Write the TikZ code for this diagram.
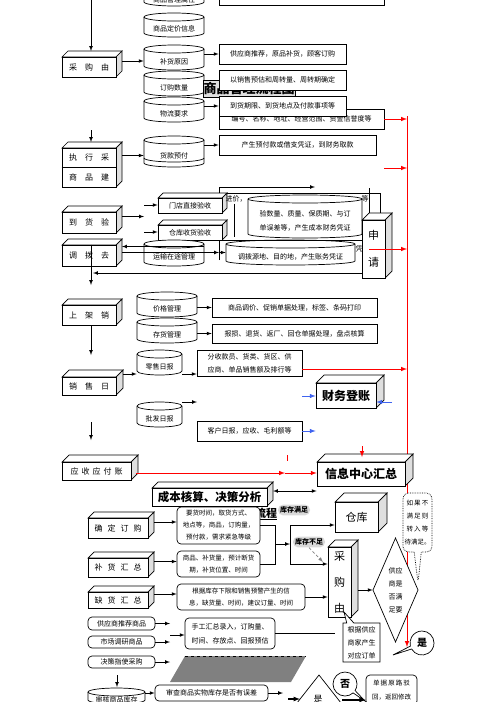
\documentclass[tikz,border=0pt]{standalone}
\usepackage{fontspec}
\setmainfont{Noto Sans CJK SC}
\usetikzlibrary{shapes.callouts}

\definecolor{arrowblue}{RGB}{64,100,240}

% raised box: name, x1, y1, x2, y2, depth, style, text
\newcommand{\solidbox}[8]{%
  \filldraw[fill=white] (#2,#3) -- (#2+#6,#3-#6) -- (#4+#6,#3-#6) -- (#4,#3) -- cycle;
  \filldraw[fill=gray!25] (#4,#3) -- (#4+#6,#3-#6) -- (#4+#6,#5-#6) -- (#4,#5) -- cycle;
  \node[face,#7,minimum width=#4pt-#2pt,minimum height=#5pt-#3pt] (#1) at ({(#2+#4)/2},{(#3+#5)/2}) {#8};
  \coordinate (#1-t) at ({(#2+#4)/2+#6},{#3-#6});
  \coordinate (#1-r) at ({#4+#6},{(#3+#5)/2-#6});
  \coordinate (#1-ne) at ({#4+#6},{#3-#6});
}
% drum: name, x1, y1, x2, y2, text
\newcommand{\drum}[6]{%
  \pgfmathsetmacro\drumrx{(#4-#2)/2}%
  \filldraw[fill=white] (#2,#3+4) -- (#2,#5-4) arc[start angle=180,end angle=360,x radius=\drumrx pt,y radius=4pt]
    -- (#4,#3+4) arc[start angle=0,end angle=180,x radius=\drumrx pt,y radius=4pt] -- cycle;
  \draw (#2,#3+4) arc[start angle=180,end angle=360,x radius=\drumrx pt,y radius=4pt];
  \node[drumtext,minimum width=#4pt-#2pt,minimum height=#5pt-#3pt-8pt] (#1) at ({(#2+#4)/2},{(#3+#5)/2+4}) {#6};
}
% plain box: name, x1, y1, x2, y2, style, text
\newcommand{\panel}[7]{%
  \node[#6,minimum width=#4pt-#2pt,minimum height=#5pt-#3pt] (#1) at ({(#2+#4)/2},{(#3+#5)/2}) {#7};
}

\begin{document}
\begin{tikzpicture}
  [x=1pt, y=-1pt, line width=0.7pt, >=latex,
   every node/.style={font=\fontsize{7}{9}\selectfont, inner sep=1pt},
   face/.style={draw, fill=white, inner sep=0pt, align=center, font=\fontsize{8}{10}\selectfont},
   heavy/.style={font=\bfseries\fontsize{12}{14}\selectfont},
   drumtext/.style={inner sep=0pt, align=center, font=\fontsize{7}{14}\selectfont},
   note/.style={draw, fill=white, align=center},
   soft/.style={note, rounded corners=4pt},
   blot/.style={fill=gray!30, rounded corners=5pt, inner sep=2pt, font=\bfseries\fontsize{7}{8}\selectfont},
   talk/.style={draw, fill=white, ellipse callout, minimum size=24pt, inner sep=0pt, font=\bfseries\fontsize{10}{12}\selectfont},
   redline/.style={red, line width=1pt},
   blueline/.style={arrowblue, line width=1pt}]

\useasboundingbox (0,0) rectangle (496,702);
\clip (0,0) rectangle (496,702);

% red bus on the right
\coordinate (rtop) at (407,116);
\coordinate (rbot) at (407,647);
\draw[redline,->] (rtop) -- (rbot);

% ---- purchase
\coordinate (top) at (91,-5);
\solidbox{cg}{62}{57}{116}{77}{6}{}{采\quad 购\quad 由}
\drum{sx}{144}{-15}{204}{6}{商品管理属性}
\drum{jx}{144}{13}{204}{37}{商品定价信息}
\drum{yy}{144}{45}{204}{70}{补货原因}
\drum{dl}{144}{71}{204}{96}{订购数量}
\drum{wl}{144}{97}{204}{122}{物流要求}
\node[fill=gray!25, draw, inner sep=0pt, minimum width=92pt, minimum height=17pt,
      font=\bfseries\fontsize{13}{15}\selectfont] (ttl) at (249,88.5) {商品管理流程图};
\panel{pb0}{219}{-20}{384}{5}{note}{}
\panel{pb1}{219}{44}{346}{64}{note}{供应商推荐，原品补货，顾客订购}
\panel{pb2}{219}{70}{346}{90}{note}{以销售预估和周转量、周转期确定}
\panel{pb4}{219}{109}{384}{129}{note}{编号、名称、地址、经营范围、资金信誉度等}
\panel{pb3}{219}{96}{346}{116}{note}{到货期限、到货地点及付款事项等}

\draw[->] (top) -- (top |- cg-t);
\draw[->] (cg-r) -- (cg-r -| yy.west);
\draw[->] (pb1.west -| yy.east) -- (pb1.west);
\draw[->] (pb3.west -| wl.east) -- (pb3.west);
\draw[redline,->] (pb4.east) -- (pb4.east -| rtop);

% ---- execution
\coordinate (t2) at (91,130);
\solidbox{zx}{62}{148}{116}{187}{6}{font=\fontsize{8}{20}\selectfont}{执\quad 行\quad 采\\商\quad 品\quad 建}
\draw (zx.west) -- (zx.east);
\drum{hk}{144}{136}{204}{167}{货款预付}
\draw (144,158) arc[start angle=180,end angle=360,x radius=30pt,y radius=4pt];
\panel{pb5}{219}{135}{376}{155}{note}{产生预付款或借支凭证，到财务取款}
\coordinate (rfree) at (384,168);

\draw[->] (t2) -- (t2 |- zx-t);
\draw[->] (hk.west -| zx-r) -- (hk.west);
\draw[->] (pb5.west -| hk.east) -- (pb5.west);
\draw[redline,->] (rfree) -- (rfree -| rtop);

% ---- receiving and transfer
\solidbox{dh}{62}{212}{116}{233}{6}{}{到\quad 货\quad 验}
\solidbox{md}{158}{198}{222}{213}{5}{font=\fontsize{7}{9}\selectfont}{门店直接验收}
\solidbox{ck}{158}{225}{222}{240}{5}{font=\fontsize{7}{9}\selectfont}{仓库收货验收}
\node (jj) at (236,199) {进价，};
\drum{ys}{248}{195}{362}{238}{验数量、质量、保质期、与订\\单误差等，产生成本财务凭证}
\node (deng) at (365,199) {等};
\coordinate (vtop) at (369,188);
\draw (vtop) -- (vtop |- 0,220);
\solidbox{sq}{362}{220}{385}{278}{7}{font=\fontsize{11}{27}\selectfont}{申\\请}
\draw (md-ne) -- (md-ne -| sq-t) -- (sq-t);
\draw (jj.south -| 234,0) -- (234,237);

\coordinate (dhend) at (144,220);
\coordinate (mdin) at (144,205);
\coordinate (ckin) at (144,232);
\coordinate (upbend) at (219,187);
\coordinate (upend) at (315,187);
\draw[->] (dh-r) -- (dh-r -| dhend);
\draw[->] (mdin) -- (mdin -| md.west);
\draw[->] (ckin) -- (ckin -| ck.west);
\draw[->] (upbend |- md-t) -- (upbend) -- (upend);

\solidbox{dbq}{62}{245}{116}{266}{6}{}{调\quad 拨\quad 去}
\drum{yz}{144}{240}{204}{266}{运输在途管理}
\drum{dbs}{226}{240}{355}{265}{调拨源地、目的地，产生账务凭证}
\node (pz) at (359,249) {凭};
\coordinate (boxtl) at (219,240);
\draw (219,260) -- (boxtl) -- (boxtl -| sq.west);
\coordinate (la) at ([yshift=3pt]dbq-r);
\coordinate (ra) at ([yshift=-3pt]dbq-r);
\draw[<-] (la) -- (la -| yz.east);
\draw[->] (ra) -- (ra -| boxtl);
\draw[->] (ra -| boxtl) -- (ra -| dbs.west);
\coordinate (back) at (93,273);
\draw[->] (sq.west |- back) -- (back);
\coordinate (d3) at (91,285);
\draw[->] (d3 |- dbq.north) -- (d3);
\draw[redline,->] (sq.center -| vtop) -- (sq.center -| rtop);

% ---- shelving
\solidbox{sj}{62}{305}{116}{325}{6}{}{上\quad 架\quad 销}
\drum{jg}{137}{292}{197}{317}{价格管理}
\drum{chg}{137}{318}{197}{343}{存货管理}
\panel{pb6}{212}{298}{377}{317}{note}{商品调价、促销单据处理，标签、条码打印}
\panel{pb7}{212}{324}{377}{343}{note}{报损、退货、返厂、回仓单据处理，盘点核算}
\draw[->] (pb6.west -| jg.east) -- (pb6.west);
\draw[->] (pb7.west -| chg.east) -- (pb7.west);
\coordinate (d4) at (91,355);
\draw[->] (d4 |- sj.south) -- (d4);

% ---- daily sales
\drum{ls}{137}{350}{182}{375}{零售日报}
\solidbox{xs}{62}{377}{116}{395}{7}{}{销\quad 售\quad 日}
\panel{pb8}{197}{350}{302}{376}{note, font=\fontsize{7}{13}\selectfont}{分收款员、货类、货区、供\\应商、单品销售额及排行等}
\drum{pf}{137}{402}{182}{427}{批发日报}
\panel{pb9}{197}{421}{302}{441}{note}{客户日报，应收、毛利额等}
\solidbox{cw}{316}{383}{376}{408}{8}{heavy}{财务登账}
\coordinate (xsr) at ([yshift=5pt]xs-r);
\draw[->] (xsr) -- (xsr -| ls.west);
\draw[->] (xsr -| ls.east) -- (xsr -| pb8.west);
\coordinate (pfend) at (197,402);
\draw[->] (pfend -| pf.east) -- (pfend);
\draw[redline,->] ([yshift=-6pt]pb8.east) -- ([yshift=-6pt]pb8.east -| rtop);
\coordinate (bl1) at (302,396);
\coordinate (bl2) at (392,402);
\draw[blueline,->] (bl1) -- (bl1 -| cw.west);
\draw[blueline,->] (bl2) -- (bl2 -| cw.east);
\draw[blueline,->] (pb9.east) -- (pb9.east -| cw.west);
\coordinate (d5s) at (91,422);
\coordinate (d5e) at (91,440);
\draw[->] (d5s) -- (d5e);

% ---- accounts and info centre
\solidbox{yszh}{62}{462}{131}{480}{7}{}{应\hspace{3pt}收\hspace{3pt}应\hspace{3pt}付\hspace{3pt}账}
\solidbox{xx}{317}{462}{405}{486}{8}{heavy}{信息中心汇总}
\coordinate (rmid) at (285,473);
\draw[redline,->] ([xshift=5pt]yszh.east |- rmid) -- (rmid);
\draw[redline,->] (rmid) -- (rmid -| xx.west);
\draw[redline] (287,455) -- (287,461);
\coordinate (rdown) at (362,446);
\draw[redline,->] (rdown) -- (362,457);

% ---- ordering
\node[font=\bfseries\fontsize{11}{13}\selectfont] (lc) at (266,514) {\underline{流程}};
\solidbox{cb}{152}{488}{267}{506}{6}{heavy, font=\bfseries\fontsize{11.5}{13}\selectfont}{成本核算、决策分析}
\draw[<->] (cb-r) -- (cb-r -| xx.west);
\node[blot] (kz) at (294,510) {库存满足};
\solidbox{ck2}{335}{502}{378}{532}{9}{font=\fontsize{11}{13}\selectfont}{仓库}
\node[draw, densely dotted, fill=white, rounded corners=6pt, rectangle callout,
      callout absolute pointer={(418,583)}, minimum width=29pt, minimum height=59pt,
      inner sep=0pt, align=center, font=\fontsize{6.5}{13}\selectfont] (rg) at (417.5,522.5)
      {如\,果\,不\\满\,足\,则\\转\,入\,等\\待满足。};

\solidbox{qd}{88}{518}{148}{538}{6}{}{确\hspace{5pt}定\hspace{5pt}订\hspace{5pt}购}
\panel{rb1}{177}{507}{260}{544}{soft, font=\fontsize{6.5}{12}\selectfont}{要货时间，取货方式、\\地点等，商品，订购量，\\预付款，需求紧急等级}
\solidbox{bh}{88}{558}{148}{577}{6}{}{补\hspace{5pt}货\hspace{5pt}汇\hspace{5pt}总}
\panel{rb2}{177}{551}{260}{577}{soft, font=\fontsize{6.5}{12}\selectfont}{商品、补货量，预计断货\\期，补货位置、时间}
\solidbox{qh}{88}{592}{148}{608}{6}{}{缺\hspace{5pt}货\hspace{5pt}汇\hspace{5pt}总}
\panel{rb3}{177}{584}{305}{610}{soft, font=\fontsize{6.5}{12}\selectfont}{根据库存下限和销售预警产生的信\\息，缺货量、时间，建议订量、时间}
\solidbox{cg2}{328}{547}{351}{617}{7}{font=\fontsize{11}{26}\selectfont}{采\\购\\由}
\node[blot] (kb) at (309,542) {库存不足};

\draw[->] (qd-r) -- (qd-r -| rb1.west);
\draw[->] (bh-r) -- (bh-r -| rb2.west);
\draw[->] (qh-r) -- (qh-r -| rb3.west);
\coordinate (mg) at (275,544);
\coordinate (spt) at (290,525);
\coordinate (spb) at (290,564);
\draw (rb1.east) -- (rb1.east -| mg) -- (rb2.east -| mg) -- (rb2.east);
\draw[->] (mg) -- (mg -| spt);
\draw[->] (spb) -- (spt) -- (spt -| ck2.west);
\draw[->] (spb) -- (spb -| cg2.west);
\draw[->] (rb3.east) -- (rb3.east -| cg2.west);
\coordinate (kbend) at (323,562);
\draw[gray, densely dashed, ->] (kb.south) -- (kbend);

% ---- supplier check
\draw[fill=white] (373,590) -- (395.5,538) -- (418,590) -- (395.5,642) -- cycle;
\node[align=center, minimum width=45pt, inner sep=0pt, font=\fontsize{7}{13}\selectfont] (gy) at (395.5,590) {供应\\商是\\否满\\足要};
\coordinate (g1) at (gy.west -| cg2-r);
\draw[->] (g1) -- (gy.west);
\node[draw, fill=white, rectangle callout, callout absolute pointer={(344,612)},
      minimum width=37pt, minimum height=39pt, inner sep=0pt, align=center,
      font=\fontsize{7}{13}\selectfont] (gj) at (361.5,642.5) {根据供应\\商家产生\\对应订单};
\node[talk, callout absolute pointer={(393,655)}] (yes) at (422,643) {是};

% ---- manual items
\panel{rs1}{88}{617}{155}{630}{soft}{供应商推荐商品}
\panel{rs2}{88}{636}{155}{648}{soft}{市场调研商品}
\panel{rs3}{185}{618}{275}{649}{soft, font=\fontsize{7}{14}\selectfont}{手工汇总录入，订购量、\\时间、存放点、回报预估}
\panel{rs4}{88}{656}{155}{668}{soft}{决策指使采购}
\coordinate (j1) at (170,624);
\coordinate (j2) at (170,635);
\coordinate (j3) at (335,636);
\draw[->] (rs1.east) -- (rs1.east -| j1);
\draw[->] (rs2.east) -- (rs2.east -| j1);
\draw[->] (rs4.east) -- (rs4.east -| j1);
\draw[->] (j2) -- (j2 -| rs3.west);
\draw (rs3.east) -- (rs3.east -| j3);
\fill[black!50] (170,682) -- (185,656) -- (306,656) -- (291,682) -- cycle;
\draw[dashed] (185,656) -- (306,656);

% ---- stock check
\coordinate (d7) at (117,675);
\coordinate (d7e) at (117,687);
\draw[->] (d7) -- (d7e);
\drum{sh}{88}{688}{145}{704}{审核商品库存}
\panel{sc}{155}{685}{268}{701}{soft}{审查商品实物库存是否有误差}
\draw[->] (sc.west -| sh.east) -- (sc.west);
\coordinate (j4) at (283,693);
\draw[->] (sc.east) -- (sc.east -| j4);
\draw[fill=white] (319,675) -- (282,722) -- (356,722) -- cycle;
\node[font=\fontsize{9}{11}\selectfont] (sf) at (318,699) {是};
\panel{dj}{366}{675}{417}{705}{soft, font=\fontsize{6.5}{14}\selectfont}{单\,据\,原\,路\,驳\\回，返回修改}
\node[talk, callout absolute pointer={(365,701)}] (no) at (345,684) {否};
\coordinate (k1) at (288,699);
\coordinate (k2) at (300,699);
\coordinate (k3) at (342,700);
\draw[very thick,->] (k1) -- (k2);
\draw[very thick,->] (k3) -- (k3 -| dj.west);

\end{tikzpicture}
\end{document}
